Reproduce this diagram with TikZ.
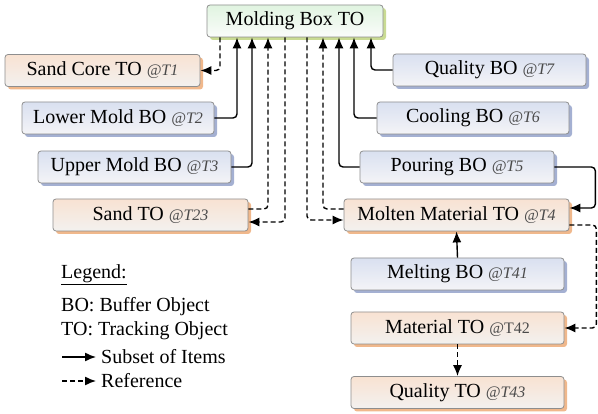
\documentclass[tikz,border=0pt]{standalone}
\usepackage{fontspec}
\setmainfont{Liberation Serif}
\usetikzlibrary{arrows.meta,shadows}
\definecolor{bordc}{HTML}{8E8E8E}
\definecolor{tagc}{HTML}{4A4A4A}
\definecolor{botop}{HTML}{D9E0F0}
\definecolor{bobot}{HTML}{F4F4F7}
\definecolor{boshd}{HTML}{A4B0D2}
\definecolor{totop}{HTML}{F8E2D2}
\definecolor{tobot}{HTML}{F3F1EF}
\definecolor{toshd}{HTML}{F0B88C}
\definecolor{mbtop}{HTML}{E0F4E0}
\definecolor{mbbot}{HTML}{FAFCFA}
\definecolor{mbshd}{HTML}{C9DB93}
\newcommand{\tg}[1]{{\fontsize{16}{18}\selectfont\itshape\color{tagc}@#1}}
\tikzset{
  box/.style={draw=bordc,line width=.8pt,rounded corners=3pt,inner sep=0pt,
    minimum height=32pt},
  bobox/.style={box,top color=botop,bottom color=bobot,
    drop shadow={shadow xshift=3pt,shadow yshift=-3pt,fill=boshd,opacity=1}},
  tobox/.style={box,top color=totop,bottom color=tobot,
    drop shadow={shadow xshift=3pt,shadow yshift=-3pt,fill=toshd,opacity=1}},
  mbbox/.style={box,top color=mbtop,bottom color=mbbot,
    drop shadow={shadow xshift=3pt,shadow yshift=-3pt,fill=mbshd,opacity=1}},
  sub/.style={line width=1.4pt,rounded corners=4pt,-{Latex[length=11pt,width=9pt]}},
  ref/.style={sub,dash pattern=on 5pt off 3pt},
  lgd/.style={anchor=west,inner sep=0pt}
}
\begin{document}
\begin{tikzpicture}[x=1pt,y=-1pt,font=\fontsize{20}{24}\selectfont]
  \useasboundingbox (0,0) rectangle (598,414);
  \node[mbbox,minimum width=176pt] (mbox) at (295,21) {Molding Box TO};
  \node[tobox,minimum width=195pt] (core) at (102.5,70.5) {Sand Core TO \tg{T1}};
  \node[bobox,minimum width=192pt] (lower) at (118,118) {Lower Mold BO \tg{T2}};
  \node[bobox,minimum width=193pt] (upper) at (134.5,167) {Upper Mold BO \tg{T3}};
  \node[tobox,minimum width=195pt] (sand) at (150.5,215) {Sand TO \tg{T23}};
  \node[bobox,minimum width=193pt] (qbo) at (489.5,70) {Quality BO \tg{T7}};
  \node[bobox,minimum width=192pt] (cool) at (473,118) {Cooling BO \tg{T6}};
  \node[bobox,minimum width=194pt] (pour) at (457,167) {Pouring BO \tg{T5}};
  \node[tobox,minimum width=225pt] (molten) at (456.5,215) {Molten Material TO \tg{T4}};
  \node[bobox,minimum width=213pt] (melt) at (457.5,274) {Melting BO \tg{T41}};
  \node[tobox,minimum width=213pt] (mat) at (457.5,328)
    {Material TO {\fontsize{16}{18}\selectfont\color{tagc}@T42}};
  \node[tobox,minimum width=213pt] (qto) at (457.5,392.5) {Quality TO \tg{T43}};
  % left side
  \draw[ref] ([xshift=-75pt]mbox.south) |- (core.east);
  \draw[sub] (lower.east) -| ([xshift=-58pt]mbox.south);
  \draw[sub] (upper.east) -| ([xshift=-43pt]mbox.south);
  \draw[ref] ([yshift=6pt]sand.east) -| ([xshift=-27pt]mbox.south);
  \draw[ref] ([xshift=-10pt]mbox.south) |- ([yshift=-7pt]sand.east);
  % right side
  \draw[ref] ([xshift=12pt]mbox.south) |- ([yshift=-5pt]molten.west);
  \draw[ref] ([yshift=6pt]molten.west) -| ([xshift=28pt]mbox.south);
  \draw[sub] (pour.west) -| ([xshift=44pt]mbox.south);
  \draw[sub] (cool.west) -| ([xshift=59pt]mbox.south);
  \draw[sub] (qbo.west) -| ([xshift=76pt]mbox.south);
  \draw[sub] (pour.east) -- ++(41,0) |- ([yshift=7pt]molten.east);
  \draw[ref] ([yshift=-10pt]molten.east) -- ++(27,0) |- (mat.east);
  \draw[sub] (melt.north) -- (molten.south);
  \draw[ref] (mat.south) -- (qto.north);
  % legend
  \node[lgd] (lhead) at (61,275) {\underline{Legend:}};
  \node[lgd] (lbo) at (61,307) {BO: Buffer Object};
  \node[lgd] (lto) at (61,331) {TO: Tracking Object};
  \node[lgd] (lsub) at (101,357) {Subset of Items};
  \node[lgd] (lref) at (101,381) {Reference};
  \draw[sub] ([xshift=-39pt]lsub.west) -- ([xshift=-5pt]lsub.west);
  \draw[ref] ([xshift=-39pt]lref.west) -- ([xshift=-5pt]lref.west);
\end{tikzpicture}
\end{document}
